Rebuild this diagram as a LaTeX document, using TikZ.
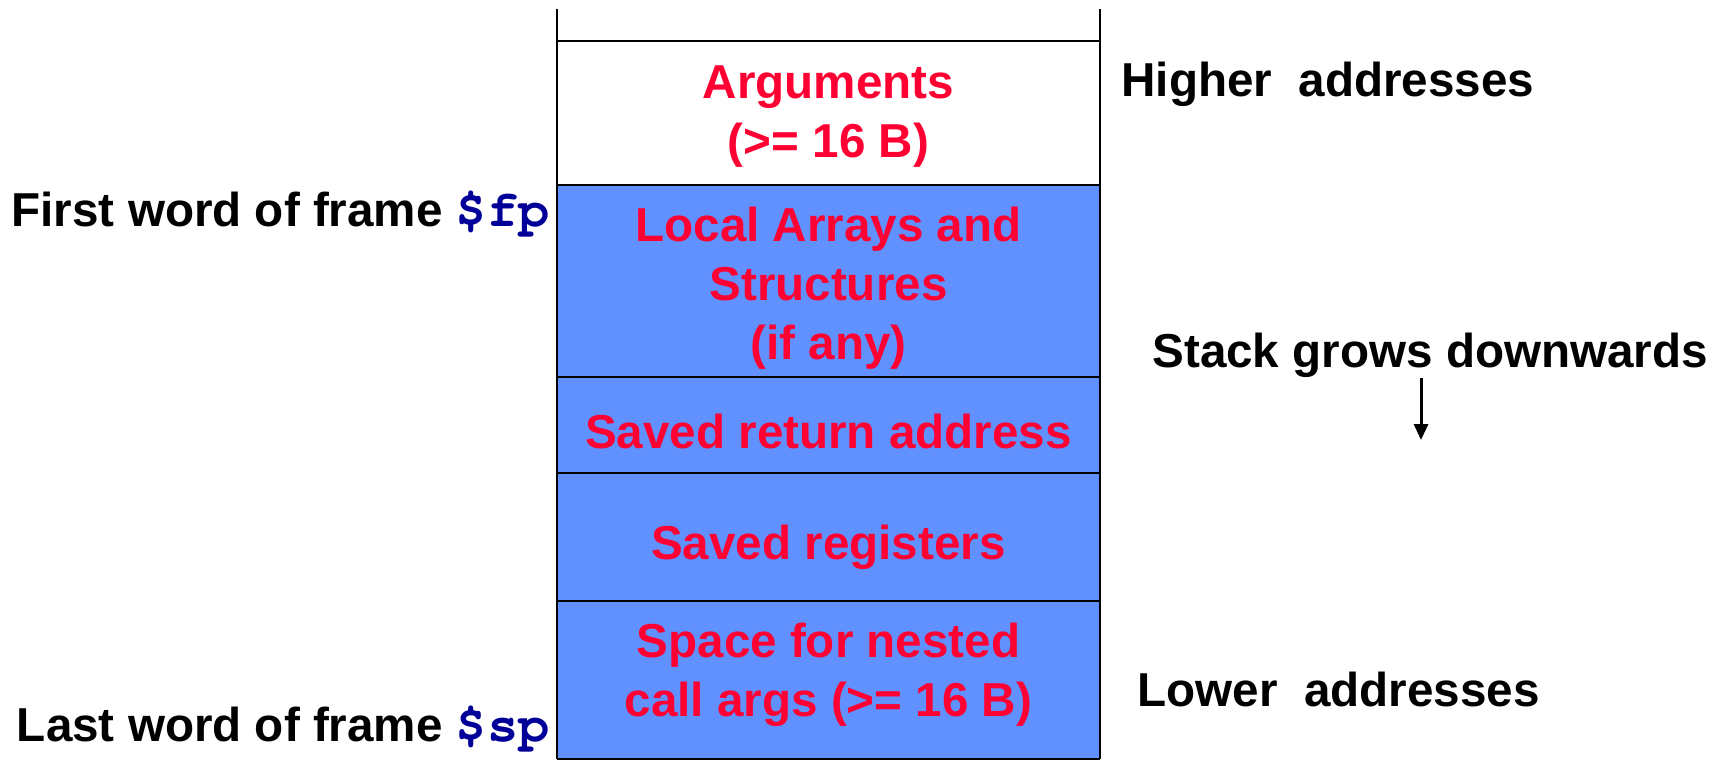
\documentclass[tikz,border=0pt]{standalone}
\usepackage{fontspec}
\setmainfont{Liberation Sans}
\newfontfamily\regfont{texgyrecursor}[Extension=.otf, UprightFont=*-regular, BoldFont=*-bold]
\usetikzlibrary{arrows.meta}
\definecolor{frameblue}{RGB}{97,145,255}
\definecolor{slotred}{RGB}{255,0,51}
\definecolor{regblue}{RGB}{0,0,153}
\tikzset{
  bigfont/.style={font=\fontsize{23.8}{29.5}\selectfont\bfseries},
  slot/.style={bigfont, text=slotred, align=center, inner sep=0pt},
  sidelabel/.style={bigfont, text=black, inner sep=0pt},
  rule/.style={line width=1pt, draw=black}
}
\newcommand{\regname}[1]{{\fontsize{26}{30}\selectfont\regfont\bfseries\color{regblue}#1}}
\begin{document}
\begin{tikzpicture}[x=0.5pt, y=-0.5pt]
  \useasboundingbox (0,0) rectangle (1729,761);

  % frame area of the stack
  \fill[frameblue] (557,185) rectangle (1100,759);

  % outer walls of the stack column
  \draw[rule] (557,9) -- (557,759);
  \draw[rule] (1100,9) -- (1100,759);

  % slot separators
  \draw[rule, line width=1.3pt] (557,41) -- (1100,41);
  \draw[rule] (557,185) -- (1100,185);
  \draw[rule] (557,377) -- (1100,377);
  \draw[rule] (557,473) -- (1100,473);
  \draw[rule] (557,601) -- (1100,601);
  \draw[rule] (557,759) -- (1100,759);

  % slot contents
  \node[slot] (args)  at (828.5,117) {Arguments\\(>= 16 B)};
  \node[slot] (local) at (828.5,288) {Local Arrays and\\Structures\\(if any)};
  \node[slot] (ra)    at (828.5,431) {Saved return address};
  \node[slot] (regs)  at (828.5,547) {Saved registers};
  \node[slot] (nest)  at (828.5,675) {Space for nested\\call args (>= 16 B)};

  % frame pointers
  \node[sidelabel, anchor=base east] (fp) at (550,226)
    {First word of frame \regname{\$fp}};
  \node[sidelabel, anchor=base east] (sp) at (550,741)
    {Last word of frame \regname{\$sp}};

  % address direction
  \node[sidelabel, anchor=base west] (hi) at (1121,96) {Higher~~addresses};
  \node[sidelabel, anchor=base west] (grow) at (1152,367) {Stack grows downwards};
  \node[sidelabel, anchor=base west] (lo) at (1137,706) {Lower~~addresses};

  \coordinate (arrtop) at (1421,378);
  \coordinate (arrbot) at (1421,440);
  \draw[line width=1.5pt, -{Triangle[length=8pt,width=7pt]}] (arrtop) -- (arrbot);
\end{tikzpicture}
\end{document}
